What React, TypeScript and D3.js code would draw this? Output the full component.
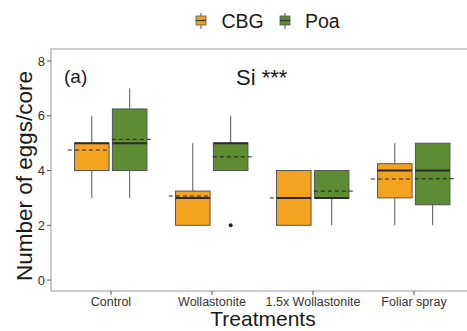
import React from "react";
import * as d3 from "d3";

const treatments = ["Control", "Wollastonite", "1.5x Wollastonite", "Foliar spray"];
const groups = ["CBG", "Poa"];
const groupColors = ["#F4A320", "#5E8C32"];

// box stats per treatment
const cbgLower = [3, 2, 2, 2];
const cbgQ1 = [4, 2, 2, 3];
const cbgMedian = [5, 3, 3, 4];
const cbgQ3 = [5, 3.25, 4, 4.25];
const cbgUpper = [6, 5, 4, 5];
const cbgMean = [4.75, 3.07, 3, 3.69];
const cbgOutliers: number[][] = [[], [], [], []];

const poaLower = [3, 4, 2, 2];
const poaQ1 = [4, 4, 3, 2.75];
const poaMedian = [5, 5, 3, 4];
const poaQ3 = [6.25, 5, 4, 5];
const poaUpper = [7, 6, 4, 5];
const poaMean = [5.14, 4.5, 3.25, 3.7];
const poaOutliers: number[][] = [[], [2], [], []];

const yTicks = [0, 2, 4, 6, 8];

const W = 467;
const H = 331;
const panel = { left: 51, top: 49, bottom: 291, right: 475 };
const FONT = "'Liberation Sans', Arial, sans-serif";

export default function App() {
  const x = d3.scalePoint<string>().domain(treatments).range([111, 414]);
  const step = x.step();
  const y = d3.scaleLinear().domain([-0.4, 8.44]).range([panel.bottom, panel.top]);

  const series = [
    { lower: cbgLower, q1: cbgQ1, med: cbgMedian, q3: cbgQ3, upper: cbgUpper, mean: cbgMean, out: cbgOutliers },
    { lower: poaLower, q1: poaQ1, med: poaMedian, q3: poaQ3, upper: poaUpper, mean: poaMean, out: poaOutliers },
  ];

  const boxW = step * 0.342;
  const boxOff = [-step * 0.19, step * 0.185];
  const meanOff = [-step * 0.222, step * 0.213];
  const meanW = step * 0.41;

  return (
    <svg width={W} height={H} style={{ position: "absolute", left: 0, top: 0 }} fontFamily={FONT}>
      <rect width={W} height={H} fill="#fff" />

      {/* legend */}
      {groups.map((g, i) => {
        const kx = [201, 285][i];
        const tx = [221.5, 305][i];
        return (
          <g key={g}>
            <line x1={kx} x2={kx} y1={13} y2={29} stroke="#555" strokeWidth={1} />
            <rect x={kx - 5} y={16} width={10} height={9} fill={groupColors[i]} stroke="#555" strokeWidth={0.8} />
            <line x1={kx - 5} x2={kx + 5} y1={20.5} y2={20.5} stroke="#333" strokeWidth={1.2} />
            <text x={tx} y={28} fontSize={19.5} fill="#1a1a1a">{g}</text>
          </g>
        );
      })}

      {/* panel border */}
      <rect
        x={panel.left}
        y={panel.top}
        width={panel.right - panel.left}
        height={panel.bottom - panel.top}
        fill="none"
        stroke="#9a9a9a"
        strokeWidth={1}
      />

      {/* y axis */}
      {yTicks.map((t) => (
        <g key={t}>
          <line x1={panel.left - 4} x2={panel.left} y1={y(t)} y2={y(t)} stroke="#555" />
          <text x={panel.left - 6} y={y(t) + 4.5} textAnchor="end" fontSize={13} fill="#333">
            {t}
          </text>
        </g>
      ))}

      {/* x axis */}
      {treatments.map((t) => (
        <g key={t}>
          <line x1={x(t)!} x2={x(t)!} y1={panel.bottom} y2={panel.bottom + 4} stroke="#555" />
          <text x={x(t)!} y={305.5} textAnchor="middle" fontSize={12.5} fill="#333">
            {t}
          </text>
        </g>
      ))}

      {/* boxes */}
      {series.map((s, gi) =>
        treatments.map((t, ti) => {
          const cx = x(t)! + boxOff[gi];
          const mx = x(t)! + meanOff[gi];
          return (
            <g key={`${gi}-${ti}`}>
              <line x1={cx} x2={cx} y1={y(s.upper[ti])} y2={y(s.q3[ti])} stroke="#555" strokeWidth={1} />
              <line x1={cx} x2={cx} y1={y(s.q1[ti])} y2={y(s.lower[ti])} stroke="#555" strokeWidth={1} />
              <rect
                x={cx - boxW / 2}
                y={y(s.q3[ti])}
                width={boxW}
                height={y(s.q1[ti]) - y(s.q3[ti])}
                fill={groupColors[gi]}
                stroke="#555"
                strokeWidth={1}
              />
              <line
                x1={cx - boxW / 2}
                x2={cx + boxW / 2}
                y1={y(s.med[ti])}
                y2={y(s.med[ti])}
                stroke="#2a2a2a"
                strokeWidth={2}
              />
              {s.out[ti].map((o, oi) => (
                <circle key={oi} cx={cx} cy={y(o)} r={2} fill="#222" />
              ))}
              <line
                x1={mx - meanW / 2}
                x2={mx + meanW / 2}
                y1={y(s.mean[ti])}
                y2={y(s.mean[ti])}
                stroke="#222"
                strokeWidth={1}
                strokeDasharray="4,3"
              />
            </g>
          );
        })
      )}

      {/* annotations */}
      <text x={64} y={83} fontSize={19} fill="#1a1a1a">(a)</text>
      <text x={236} y={85} fontSize={22} fill="#1a1a1a">Si ***</text>

      {/* axis titles */}
      <text
        transform={`translate(32,176) rotate(-90)`}
        textAnchor="middle"
        fontSize={22.5}
        fill="#1a1a1a"
      >
        Number of eggs/core
      </text>
      <text x={263} y={326.3} textAnchor="middle" fontSize={21} fill="#1a1a1a">
        Treatments
      </text>
    </svg>
  );
}
